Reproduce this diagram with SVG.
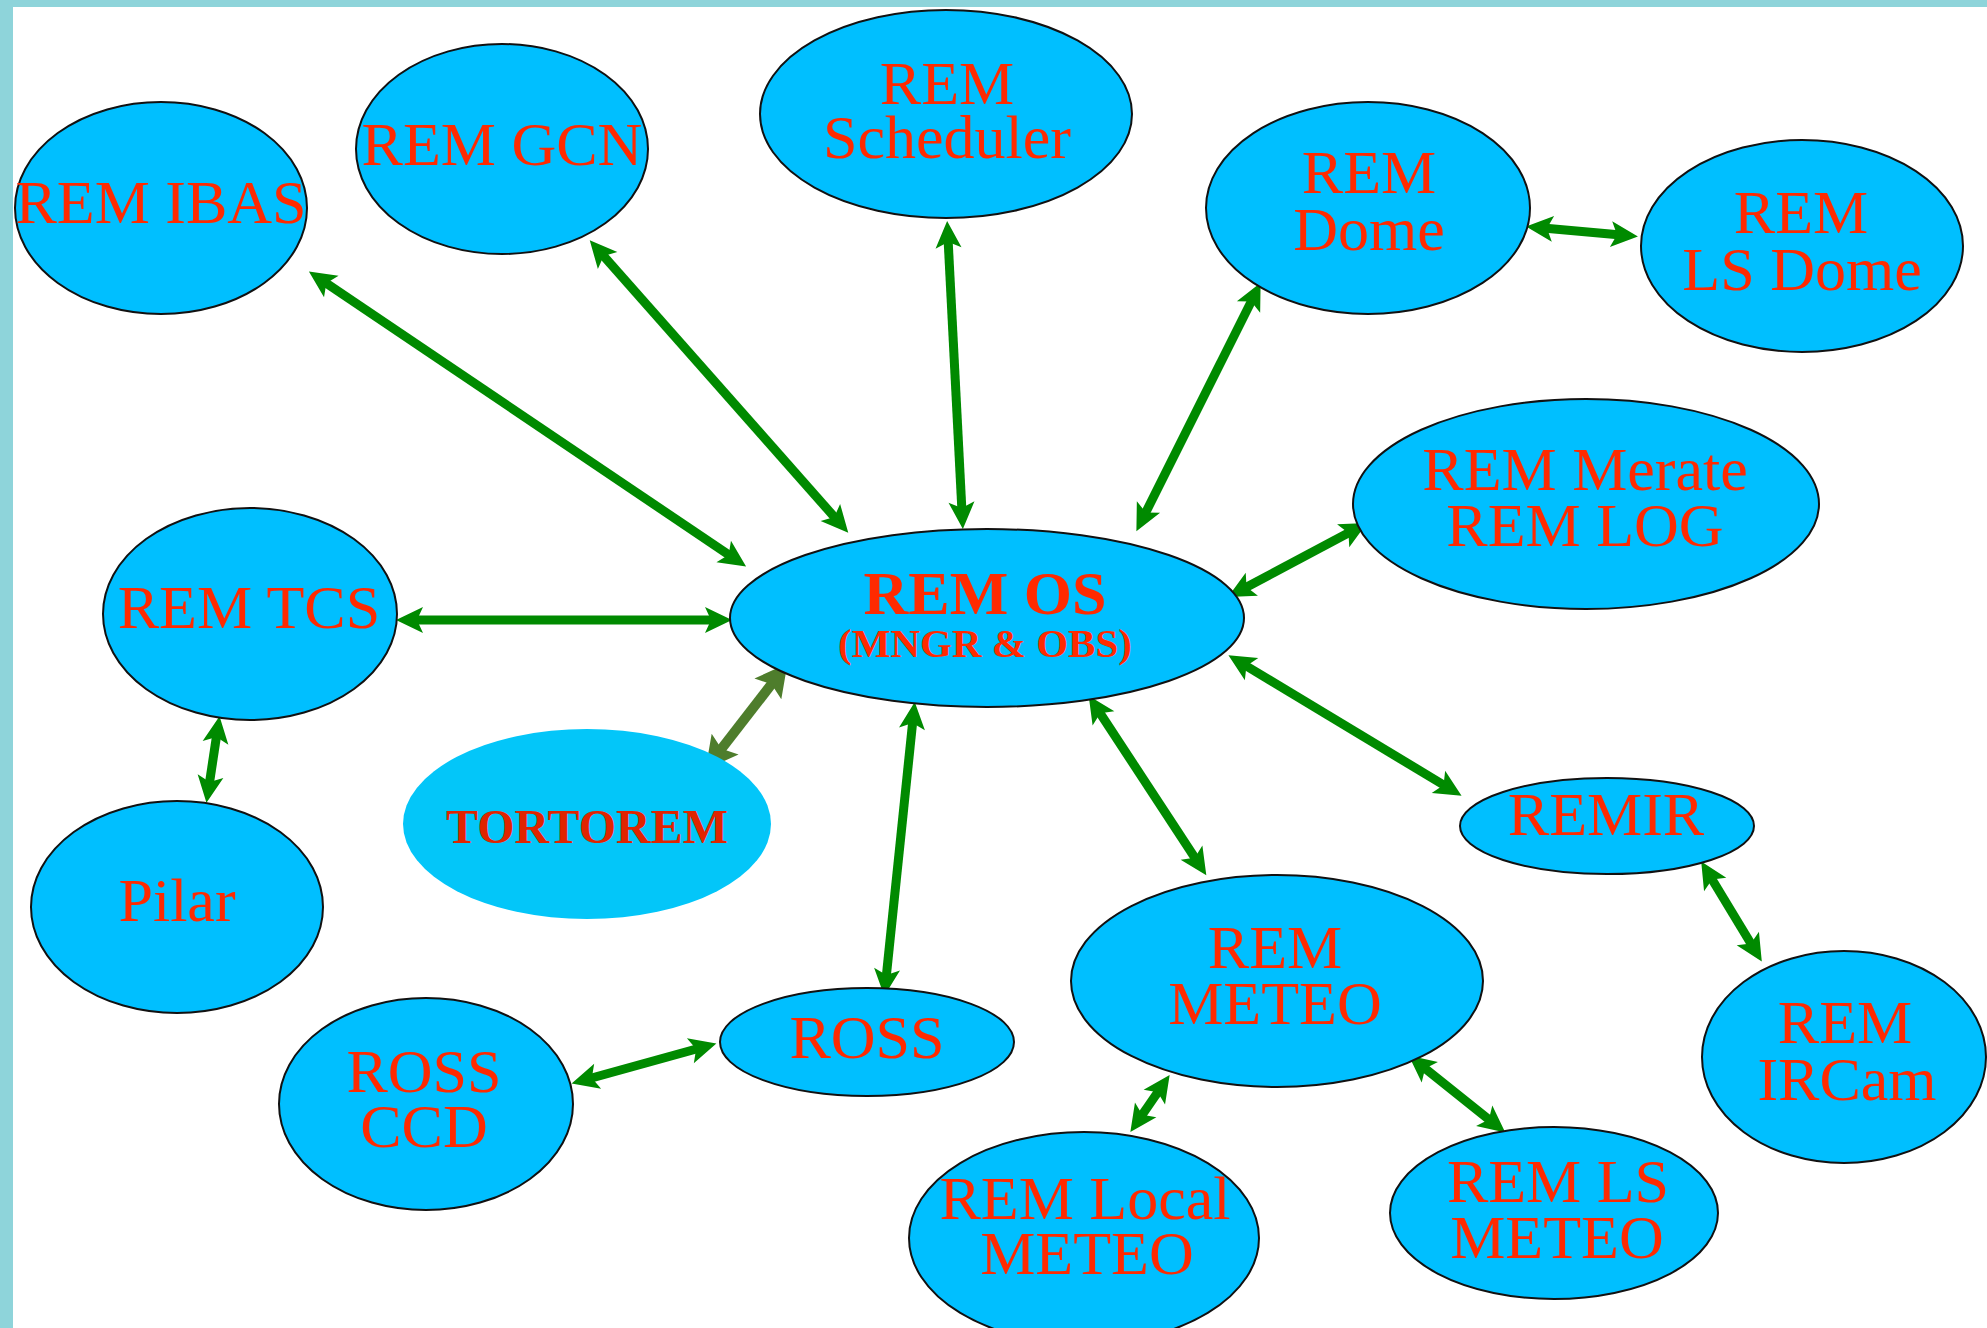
<svg xmlns="http://www.w3.org/2000/svg" width="1987" height="1328" viewBox="0 0 1987 1328">
<style>
.node ellipse{fill:#00BFFF;stroke:#111;stroke-width:2}
.node text{font-family:"Liberation Serif","Times New Roman",serif;font-size:62px;fill:#FF2A00;text-anchor:middle}
.bold{font-weight:bold}
.conn line{stroke:#008A00;stroke-width:9;marker-start:url(#ah);marker-end:url(#ah)}
.conn line.olive{stroke:#4E7D2C;stroke-width:10;marker-start:url(#ah2);marker-end:url(#ah2)}
</style>
<defs>
<marker id="ah" markerUnits="userSpaceOnUse" viewBox="-14 -16 36 32" refX="0" refY="0" markerWidth="36" markerHeight="32" orient="auto-start-reverse" overflow="visible">
<path d="M-10,-13 L17,0 L-10,13 L-4,0 Z" fill="#008A00"/>
</marker>
<marker id="ah2" markerUnits="userSpaceOnUse" viewBox="-14 -20 40 40" refX="0" refY="0" markerWidth="40" markerHeight="40" orient="auto-start-reverse" overflow="visible">
<path d="M-10,-17 L22,0 L-10,17 L-4,0 Z" fill="#4E7D2C"/>
</marker>
</defs>
<rect x="0" y="0" width="1987" height="1328" fill="#FFFFFF"/>
<rect x="0" y="0" width="1987" height="7" fill="#8ED4DA"/>
<rect x="0" y="0" width="13" height="1328" fill="#8ED4DA"/>

<g id="connectors" class="conn">
<line x1="323" y1="281" x2="732" y2="557"/>
<line x1="601" y1="253" x2="837" y2="520"/>
<line x1="948" y1="238" x2="962" y2="512"/>
<line x1="1253" y1="298" x2="1144" y2="516"/>
<line x1="1543" y1="228" x2="1621" y2="235"/>
<line x1="1352" y1="531" x2="1243" y2="589"/>
<line x1="413" y1="620" x2="715" y2="620"/>
<line x1="217" y1="733" x2="209" y2="786"/>
<line class="olive" x1="774" y1="681" x2="719" y2="752"/>
<line x1="913" y1="719" x2="886" y2="979"/>
<line x1="700" y1="1048" x2="588" y2="1079"/>
<line x1="1098" y1="710" x2="1197" y2="861"/>
<line x1="1243" y1="664" x2="1447" y2="787"/>
<line x1="1710" y1="876" x2="1753" y2="947"/>
<line x1="1160" y1="1089" x2="1140" y2="1118"/>
<line x1="1422" y1="1066" x2="1492" y2="1122"/>
</g>

<g id="rem-ibas" class="node"><ellipse cx="161" cy="208" rx="146" ry="106"/><text x="161" y="223">REM IBAS</text></g>
<g id="rem-gcn" class="node"><ellipse cx="502" cy="149" rx="146" ry="105"/><text x="502" y="165">REM GCN</text></g>
<g id="rem-scheduler" class="node"><ellipse cx="946" cy="114" rx="186" ry="104"/><text x="947" y="104">REM</text><text x="947" y="158">Scheduler</text></g>
<g id="rem-dome" class="node"><ellipse cx="1368" cy="208" rx="162" ry="106"/><text x="1369" y="193">REM</text><text x="1369" y="250">Dome</text></g>
<g id="rem-ls-dome" class="node"><ellipse cx="1802" cy="246" rx="161" ry="106"/><text x="1801" y="233">REM</text><text x="1802" y="290">LS Dome</text></g>
<g id="rem-merate" class="node"><ellipse cx="1586" cy="504" rx="233" ry="105"/><text x="1585" y="490">REM Merate</text><text x="1585" y="546">REM LOG</text></g>
<g id="rem-os" class="node"><ellipse cx="987" cy="618" rx="257" ry="89"/><text class="bold" x="985" y="614">REM OS</text><text class="bold" x="985" y="657" style="font-size:41px">(MNGR &amp; OBS)</text></g>
<g id="rem-tcs" class="node"><ellipse cx="250" cy="614" rx="147" ry="106"/><text x="249" y="628">REM TCS</text></g>
<g id="pilar" class="node"><ellipse cx="177" cy="907" rx="146" ry="106"/><text x="177" y="921">Pilar</text></g>
<g id="tortorem" class="node"><ellipse cx="587" cy="824" rx="184" ry="95" style="stroke:none;fill:#03C6F9"/><text class="bold" x="587" y="843" style="font-size:48px;fill:#E02400">TORTOREM</text></g>
<g id="ross" class="node"><ellipse cx="867" cy="1042" rx="147" ry="54"/><text x="867" y="1058">ROSS</text></g>
<g id="ross-ccd" class="node"><ellipse cx="426" cy="1104" rx="147" ry="106"/><text x="424" y="1092">ROSS</text><text x="424" y="1147">CCD</text></g>
<g id="rem-meteo" class="node"><ellipse cx="1277" cy="981" rx="206" ry="106"/><text x="1275" y="968">REM</text><text x="1275" y="1024">METEO</text></g>
<g id="remir" class="node"><ellipse cx="1607" cy="826" rx="147" ry="48"/><text x="1606" y="835">REMIR</text></g>
<g id="rem-ircam" class="node"><ellipse cx="1844" cy="1057" rx="142" ry="106"/><text x="1845" y="1043">REM</text><text x="1847" y="1100">IRCam</text></g>
<g id="rem-local-meteo" class="node"><ellipse cx="1084" cy="1238" rx="175" ry="106"/><text x="1085" y="1219">REM Local</text><text x="1087" y="1274">METEO</text></g>
<g id="rem-ls-meteo" class="node"><ellipse cx="1554" cy="1213" rx="164" ry="86"/><text x="1558" y="1202">REM LS</text><text x="1557" y="1258">METEO</text></g>
</svg>
